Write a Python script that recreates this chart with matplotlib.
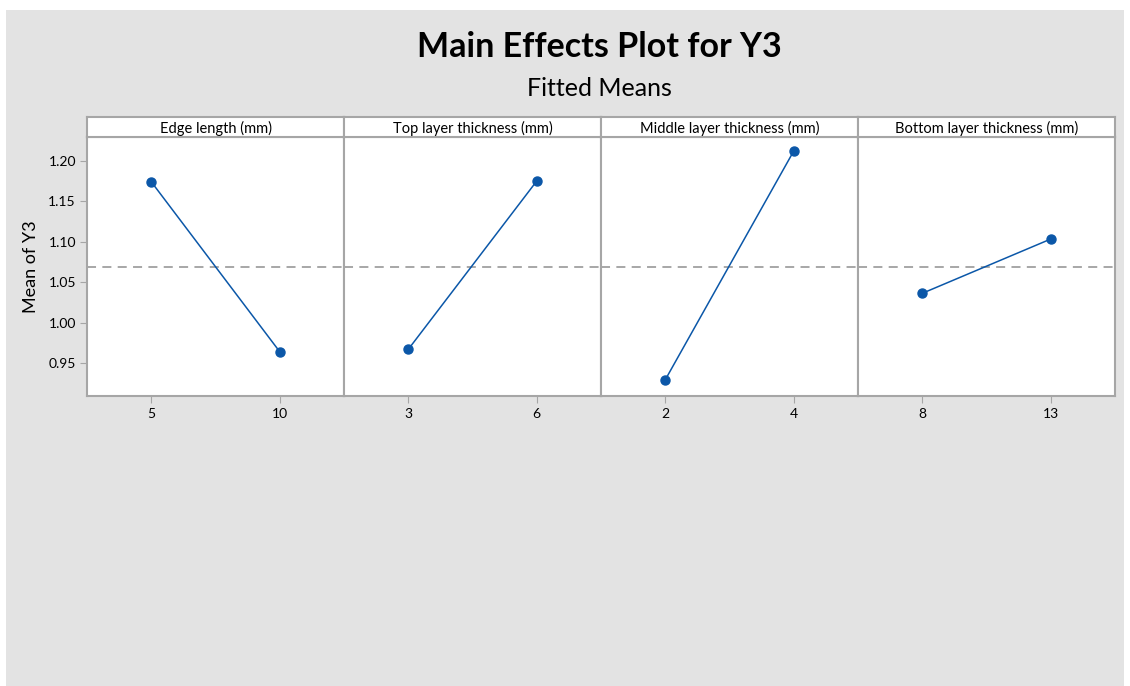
import matplotlib
matplotlib.use("Agg")
import matplotlib.pyplot as plt
from matplotlib.patches import Rectangle

plt.rcParams['font.family'] = ['Lato', 'DejaVu Sans']

factors = ["Edge length (mm)", "Top layer thickness (mm)",
           "Middle layer thickness (mm)", "Bottom layer thickness (mm)"]
levels = [[5, 10], [3, 6], [2, 4], [8, 13]]
means = [[1.1744, 0.9643], [0.9672, 1.1753], [0.9296, 1.2124], [1.0365, 1.1036]]
overall_mean = 1.0694
yticks = [0.95, 1.00, 1.05, 1.10, 1.15, 1.20]
ytick_labels = ["0.95", "1.00", "1.05", "1.10", "1.15", "1.20"]

W, H = 1130, 686
fig = plt.figure(figsize=(W / 100, H / 100), dpi=100)
fig.patch.set_facecolor("white")
fig.add_artist(Rectangle((6 / W, 0), (1124 - 6) / W, (H - 10) / H,
                         transform=fig.transFigure, facecolor="#E3E3E3",
                         edgecolor="none", zorder=-10))

blue = "#0B57A8"
frame = "#A6A6A6"
x0, x1 = 87, 1115
top, bottom, head = 137, 396, 117
pw = (x1 - x0) / 4

for i, (fac, lv, mv) in enumerate(zip(factors, levels, means)):
    left = x0 + i * pw
    ax = fig.add_axes([left / W, (H - bottom) / H, pw / W, (bottom - top) / H])
    ax.set_facecolor("white")
    d = lv[1] - lv[0]
    ax.set_xlim(lv[0] - d / 2, lv[1] + d / 2)
    ax.set_ylim(0.9096, 1.2297)
    ax.axhline(overall_mean, color="#A0A0A0", lw=1.3, ls=(0, (5, 3.5)), zorder=1)
    ax.plot(lv, mv, color=blue, lw=1.1, marker="o", ms=6.5, mfc=blue, mec=blue, zorder=3)
    ax.set_xticks(lv)
    ax.set_xticklabels([str(v) for v in lv])
    ax.tick_params(axis="x", direction="out", length=5, color=frame, labelsize=10, pad=4)
    if i == 0:
        ax.set_yticks(yticks)
        ax.set_yticklabels(ytick_labels)
        ax.tick_params(axis="y", direction="out", length=5, color=frame, labelsize=10, pad=3)
        ax.set_ylabel("Mean of Y3", fontsize=13, labelpad=7)
    else:
        ax.set_yticks([])
    for s in ax.spines.values():
        s.set_color(frame)
        s.set_linewidth(1.5)
    hx = fig.add_axes([left / W, (H - top) / H, pw / W, (top - head) / H])
    hx.set_facecolor("white")
    hx.set_xticks([])
    hx.set_yticks([])
    for s in hx.spines.values():
        s.set_color(frame)
        s.set_linewidth(1.5)
    hx.text(0.5, 0.45, fac, ha="center", va="center", fontsize=10.5, transform=hx.transAxes)

fig.text(599 / W, 1 - 47 / H, "Main Effects Plot for Y3", ha="center", va="center",
         fontsize=24.5, fontweight="bold")
fig.text(599 / W, 1 - 89 / H, "Fitted Means", ha="center", va="center", fontsize=18)

fig.savefig("out.png", dpi=100)
